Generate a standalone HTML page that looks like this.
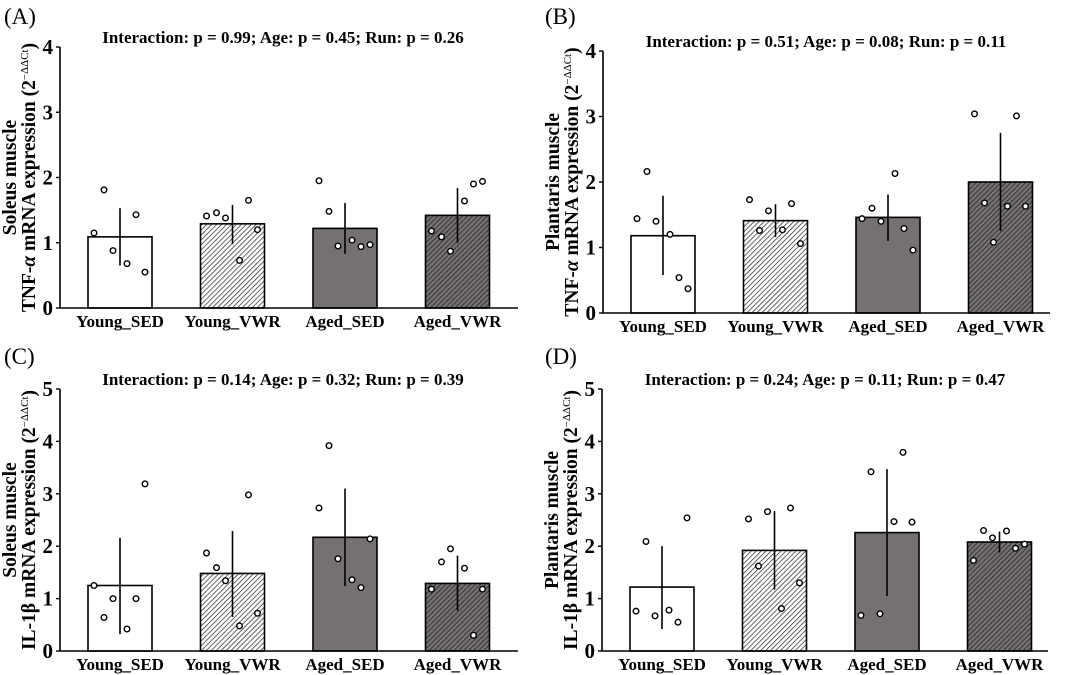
<!DOCTYPE html>
<html><head><meta charset="utf-8"><style>
html,body{margin:0;padding:0;background:#fff;}
svg{display:block;font-family:"Liberation Serif",serif;}
</style></head><body>
<svg id="fig" width="1065" height="675" viewBox="0 0 1065 675">
<defs>
<pattern id="hatchLight" patternUnits="userSpaceOnUse" width="3.5" height="3.5" patternTransform="rotate(45)">
<rect width="3.5" height="3.5" fill="#fff"/><line x1="0" y1="0" x2="0" y2="3.5" stroke="#222" stroke-width="1.4"/></pattern>
<pattern id="hatchDark" patternUnits="userSpaceOnUse" width="3.5" height="3.5" patternTransform="rotate(45)">
<rect width="3.5" height="3.5" fill="#767171"/><line x1="0" y1="0" x2="0" y2="3.5" stroke="#222" stroke-width="1.5"/></pattern>
</defs>
</svg>
<script>
const categories=["Young_SED","Young_VWR","Aged_SED","Aged_VWR"];
const jitter=[-26,-16,-7,7,16,25];
const aMeans=[1.09,1.29,1.22,1.42];
const aLow=[0.65,0.98,0.83,1.00];
const aHigh=[1.53,1.58,1.61,1.84];
const aDots=[[1.15,1.81,0.88,0.68,1.43,0.55],[1.41,1.46,1.38,0.73,1.65,1.20],[1.95,1.48,0.95,1.04,0.94,0.97],[1.18,1.09,0.87,1.64,1.90,1.94]];
const bMeans=[1.18,1.41,1.46,2.00];
const bLow=[0.58,1.16,1.10,1.25];
const bHigh=[1.79,1.66,1.81,2.75];
const bDots=[[1.44,2.16,1.40,1.20,0.54,0.37],[1.73,1.26,1.56,1.27,1.67,1.06],[1.44,1.60,1.40,2.13,1.29,0.96],[3.04,1.68,1.08,1.63,3.01,1.63]];
const cMeans=[1.25,1.48,2.17,1.29];
const cLow=[0.32,0.65,1.24,0.77];
const cHigh=[2.16,2.29,3.10,1.82];
const cDots=[[1.25,0.64,1.0,0.42,1.0,3.19],[1.87,1.59,1.34,0.48,2.98,0.72],[2.73,3.92,1.76,1.36,1.21,2.14],[1.18,1.70,1.95,1.58,0.30,1.18]];
const dMeans=[1.22,1.92,2.26,2.08];
const dLow=[0.42,1.17,1.05,1.88];
const dHigh=[2.00,2.67,3.47,2.28];
const dDots=[[0.76,2.09,0.67,0.78,0.55,2.54],[2.52,1.62,2.66,0.81,2.73,1.30],[0.68,3.42,0.71,2.47,3.79,2.46],[1.73,2.30,2.16,2.29,1.96,2.04]];
const ticks4=[0,1,2,3,4];
const ticks5=[0,1,2,3,4,5];

const NS="http://www.w3.org/2000/svg";
const svg=document.getElementById('fig');
function mk(tag,attrs,parent,text){const e=document.createElementNS(NS,tag);for(const k in attrs)e.setAttribute(k,attrs[k]);if(text!==undefined)e.textContent=text;(parent||svg).appendChild(e);return e;}
const fills=["#fff","url(#hatchLight)","#767171","url(#hatchDark)"];

function panel(id,letter,lx,ly,x0,xEnd,y0,yTop,ticks,title,muscle,gene,means,low,high,dots){
  const g=mk('g',{});
  
  
  const max=ticks[ticks.length-1];
  const y=v=>y0-(y0-yTop)*v/max;
  const xc=i=>x0+60+i*112.5;
  const pl=mk('text',{x:lx,y:ly,'font-size':23},g,'('+letter+')');
  
  
  const t=mk('text',{x:x0+223,y:yTop-4,'font-size':17,'font-weight':'bold','text-anchor':'middle'},g,title);
  
  
  means.forEach((m,i)=>{
    const r=mk('rect',{x:xc(i)-32,y:y(m),width:64,height:y0-y(m),fill:fills[i],stroke:'#000','stroke-width':1.6},g);
    
    
  });
  means.forEach((m,i)=>{
    const l=mk('line',{x1:xc(i),x2:xc(i),y1:y(high[i]),y2:y(low[i]),stroke:'#000','stroke-width':1.6},g);
    
    
  });
  dots.forEach((arr,i)=>arr.forEach((v,j)=>{
    const c=mk('circle',{cx:xc(i)+jitter[j],cy:y(v),r:2.8,fill:'#fff',stroke:'#000','stroke-width':1.4},g);
    
    
  }));
  const ya=mk('line',{x1:x0,x2:x0,y1:yTop,y2:y0,stroke:'#000','stroke-width':1.6},g);
  
  
  const xa=mk('line',{x1:x0,x2:xEnd,y1:y0,y2:y0,stroke:'#000','stroke-width':1.6},g);
  
  
  ticks.forEach(v=>{
    mk('line',{x1:x0-4,x2:x0,y1:y(v),y2:y(v),stroke:'#000','stroke-width':1.4},g);
    const tl=mk('text',{x:x0-7,y:y(v)+7,'font-size':21,'font-weight':'bold','text-anchor':'end'},g,String(v));
    
    
  });
  categories.forEach((c,i)=>{
    const cl=mk('text',{x:xc(i),y:y0+19,'font-size':17,'font-weight':'bold','text-anchor':'middle'},g,c);
    
    
  });
  const cy=(y0+yTop)/2;
  const yl=mk('text',{transform:`translate(${x0-44},${cy}) rotate(-90)`,'font-size':19.5,'font-weight':'bold','text-anchor':'middle'},g);
  
  
  mk('tspan',{x:0,dy:0},yl,muscle+' muscle');
  const s2=mk('tspan',{x:0,dy:19},yl);
  if(gene==='TNF'){mk('tspan',{},s2,'TNF-');mk('tspan',{'font-style':'italic'},s2,'α');}
  else{mk('tspan',{},s2,'IL-1β');}
  mk('tspan',{},s2,' mRNA expression (2');
  mk('tspan',{'font-size':11,dy:-7,'font-weight':'normal'},s2,'−ΔΔCt');
  mk('tspan',{dy:7},s2,')');
}
panel('a','A',4,24,60,518,308,47,ticks4,'Interaction: p = 0.99; Age: p = 0.45; Run: p = 0.26','Soleus','TNF',aMeans,aLow,aHigh,aDots);
panel('b','B',545,24,603,1050,313,51,ticks4,'Interaction: p = 0.51; Age: p = 0.08; Run: p = 0.11','Plantaris','TNF',bMeans,bLow,bHigh,bDots);
panel('c','C',4,364,60,518,651,389,ticks5,'Interaction: p = 0.14; Age: p = 0.32; Run: p = 0.39','Soleus','IL',cMeans,cLow,cHigh,cDots);
panel('d','D',545,364,602,1048,651,389,ticks5,'Interaction: p = 0.24; Age: p = 0.11; Run: p = 0.47','Plantaris','IL',dMeans,dLow,dHigh,dDots);
</script>
</body></html>
